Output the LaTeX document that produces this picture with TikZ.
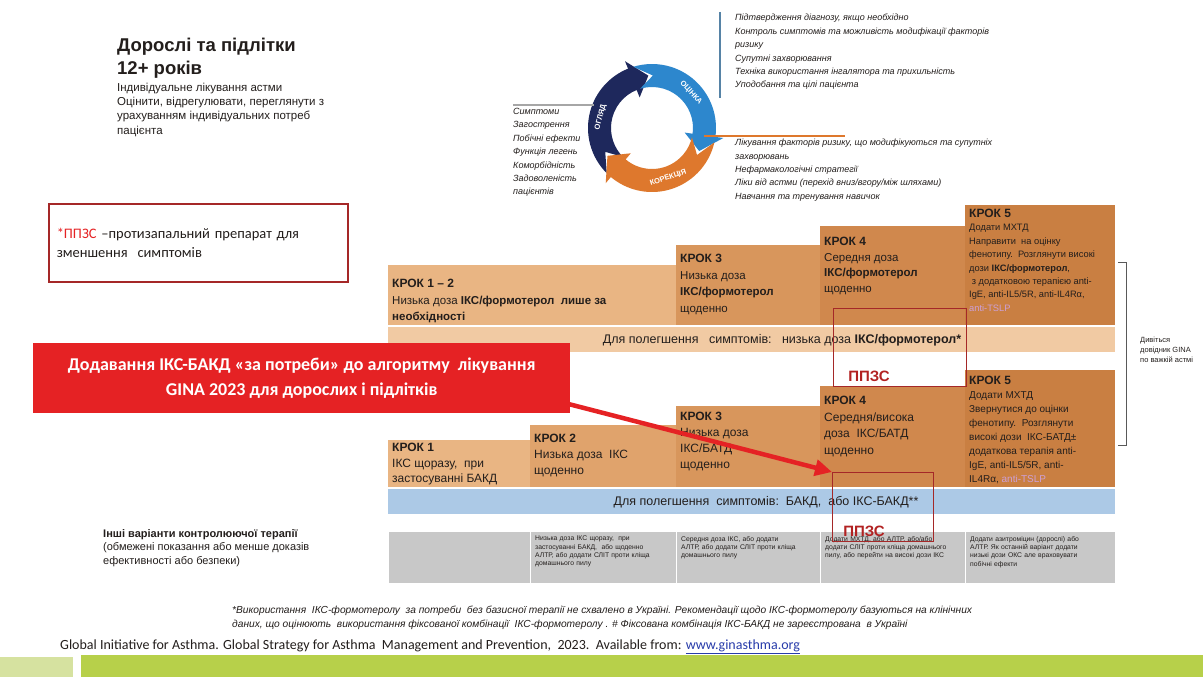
\documentclass[tikz,border=0pt]{standalone}
\usepackage{fontspec}
\setmainfont{Liberation Sans}
\newfontfamily\calibri{Carlito}
\usetikzlibrary{arrows.meta,positioning}
\definecolor{ink}{RGB}{35,30,28}
\definecolor{navy}{RGB}{30,40,92}
\definecolor{sky}{RGB}{45,135,205}
\definecolor{rust}{RGB}{222,120,45}
\definecolor{stepA}{RGB}{233,181,131}
\definecolor{stepB}{RGB}{224,163,108}
\definecolor{stepC}{RGB}{216,150,92}
\definecolor{stepD}{RGB}{208,136,77}
\definecolor{stepE}{RGB}{201,127,66}
\definecolor{peach}{RGB}{241,202,163}
\definecolor{relief}{RGB}{172,201,230}
\definecolor{stone}{RGB}{200,200,200}
\definecolor{wine}{RGB}{165,40,40}
\definecolor{alarm}{RGB}{229,34,36}
\definecolor{lilac}{RGB}{205,160,215}
\definecolor{lime}{RGB}{183,208,74}
\definecolor{palelime}{RGB}{214,226,160}
\definecolor{link}{RGB}{40,60,170}
\tikzset{
  >={Stealth[length=2.6mm]},
  stepbox/.style={fill=#1,inner sep=0pt,outer sep=0pt,anchor=south west},
  steptext/.style={anchor=north west,align=left,inner sep=0pt,text=ink},
  band/.style={fill=#1,inner sep=0pt,anchor=north west,minimum width=727pt,minimum height=25pt},
  bandtext/.style={font=\fontsize{12.5}{14}\selectfont,text=ink},
  ppzsbox/.style={draw=wine,line width=1.4pt,inner sep=0pt,anchor=north west},
  ppzslabel/.style={font=\fontsize{15}{17}\selectfont\bfseries,text=wine!85!red},
  note/.style={anchor=north west,align=left,inner sep=0pt,text=ink,
    font=\fontsize{9}{13.4}\selectfont\itshape},
  graycell/.style={fill=stone,draw=white,line width=0.8pt,inner sep=0pt,
    anchor=north west,minimum height=52pt},
  celltext/.style={anchor=north west,align=left,inner sep=0pt,text width=126pt,
    text=ink,font=\fontsize{6.8}{8.3}\selectfont},
  cyclelabel/.style={text=white,font=\fontsize{7.5}{8}\selectfont\bfseries,inner sep=0pt},
  hairline/.style={draw=#1,line width=1.2pt},
}
% header of a step box
\newcommand{\krok}[1]{{\fontsize{12}{15}\selectfont\bfseries КРОК #1}}
% one arrow of the review cycle: colour, start angle, end angle
\newcommand{\cyclearrow}[3]{%
  \fill[#1] (#2:64) arc[start angle=#2,end angle=#3,radius=64]
    -- (#3:72) -- ({#3-18}:52.5) -- (#3:33) -- (#3:41)
    arc[start angle=#3,end angle=#2,radius=41] -- ({#2-18}:52.5) -- cycle;}

\begin{document}
\begin{tikzpicture}[x=1pt,y=-1pt]
  \useasboundingbox (0,0) rectangle (1203,677);
  \fill[white] (0,0) rectangle (1203,677);

  % heading
  \node[anchor=north west,align=left,inner sep=0pt,text=ink,
    font=\fontsize{18.5}{23}\selectfont\bfseries] (title) at (117,38) {Дорослі та підлітки\\12+ років};
  \node[below=4pt of title.south west,anchor=north west,align=left,inner sep=0pt,text=ink,
    font=\fontsize{11.5}{14.3}\selectfont] (subtitle) {Індивідуальне лікування астми\\Оцінити, відрегулювати, переглянути з\\урахуванням індивідуальних потреб\\пацієнта};

  % review - assess - adjust cycle
  \begin{scope}[shift={(652,128)},y=1pt]
    \cyclearrow{navy}{225}{112}
    \cyclearrow{sky}{107}{-8}
    \cyclearrow{rust}{-13}{-130}
    \node[cyclelabel,rotate=75] (review) at (168:52.5) {ОГЛЯД};
    \node[cyclelabel,rotate=-48] (assess) at (42:52.5) {ОЦІНКА};
    \node[cyclelabel,rotate=18] (adjust) at (-72:52.5) {КОРЕКЦІЯ};
  \end{scope}
  \node[note] (checklist) at (735,14) {Підтвердження діагнозу, якщо необхідно\\Контроль симптомів та можливість модифікації факторів\\ризику\\Супутні захворювання\\Техніка використання інгалятора та прихильність\\Уподобання та цілі пацієнта};
  \node[note] (actionlist) at (735,139) {Лікування факторів ризику, що модифікуються та супутніх\\захворювань\\Нефармакологічні стратегії\\Ліки від астми (перехід вниз/вгору/між шляхами)\\Навчання та тренування навичок};
  \node[note] (reviewlist) at (513,108) {Симптоми\\Загострення\\Побічні ефекти\\Функція легень\\Коморбідність\\Задоволеність\\пацієнтів};
  \coordinate (reviewend) at (594,105);
  \coordinate (adjuststart) at (704,136);
  \coordinate (adjustend) at (845,136);
  \draw[hairline=gray!70] ([yshift=3pt]reviewlist.north west) -- (reviewend);
  \draw[hairline=sky!50!gray] ([xshift=-15pt,yshift=2pt]checklist.north west) -- ([xshift=-15pt,yshift=-8pt]checklist.south west);
  \draw[hairline=rust] (adjuststart) -- (adjustend);

  % legend
  \node[draw=wine,line width=1.5pt,minimum width=299pt,minimum height=78pt,inner xsep=8pt,
    text width=283pt,align=left,anchor=north west,text=ink,
    font=\calibri\fontsize{14.5}{19}\selectfont] (legend) at (48,203)
    {\textcolor{alarm}{*ППЗС} –протизапальний препарат для\\зменшення\ \ симптомів};

  % track 1: ICS-formoterol reliever
  \foreach \n/\x/\w/\h/\c/\dy/\fs/\ls/\t in {
      u12/388/288/60/stepA/14/11.5/16.5/{\krok{1 – 2}\\Низька доза \textbf{ІКС/формотерол}\ \ \textbf{лише за}\\\textbf{необхідності}},
      u3/676/144/80/stepC/9/11.5/16.5/{\krok{3}\\Низька доза\\\textbf{ІКС/формотерол}\\щоденно},
      u4/820/145/99/stepD/11/11.5/15.5/{\krok{4}\\Середня доза\\\textbf{ІКС/формотерол}\\щоденно},
      u5/965/150/120/stepE/4/9.3/13.4/{\krok{5}\\Додати МХТД\\Направити\ \ на оцінку\\фенотипу.\ \ Розглянути високі\\дози \textbf{ІКС/формотерол},\\\ з додатковою терапією anti-\\IgE, anti-IL5/5R, anti-IL4Rα,\\\textcolor{lilac}{anti-TSLP}}}
  {
    \node[stepbox=\c,minimum width=\w pt,minimum height=\h pt] (\n) at (\x,325) {};
    \node[steptext,font=\fontsize{\fs}{\ls}\selectfont] at ([xshift=4pt,yshift=-\dy pt]\n.north west) {\t};
  }
  \node[band=peach] (reliefA) at (388,327) {};
  \node[bandtext] (reliefAtext) at (782,340) {Для полегшення\ \ \ симптомів:\ \ \ низька доза \textbf{ІКС/формотерол*}};

  % track 2: SABA or ICS-SABA reliever
  \foreach \n/\x/\w/\h/\c/\dy/\fs/\ls/\t in {
      l1/388/142/47/stepA/3/12/15.5/{\krok{1}\\ІКС щоразу,\ \ при\\застосуванні БАКД},
      l2/530/146/62/stepB/9/12/16/{\krok{2}\\Низька доза\ \ ІКС\\щоденно},
      l3/676/144/81/stepC/6/12/16/{\krok{3}\\Низька доза\\ІКС/БАТД\\щоденно},
      l4/820/145/101/stepD/10/12/16.5/{\krok{4}\\Середня/висока\\доза\ \ ІКС/БАТД\\щоденно},
      l5/965/150/117/stepE/6/10/14/{\krok{5}\\Додати МХТД\\Звернутися до оцінки\\фенотипу.\ \ Розглянути\\високі дози\ \ ІКС-БАТД±\\додаткова терапія anti-\\IgE, anti-IL5/5R, anti-\\IL4Rα, \textcolor{lilac}{anti-TSLP}}}
  {
    \node[stepbox=\c,minimum width=\w pt,minimum height=\h pt] (\n) at (\x,487) {};
    \node[steptext,font=\fontsize{\fs}{\ls}\selectfont] at ([xshift=4pt,yshift=-\dy pt]\n.north west) {\t};
  }
  \node[band=relief] (reliefB) at (388,489) {};
  \node[bandtext] (reliefBtext) at (766,502) {Для полегшення\ \ симптомів:\ \ БАКД,\ \ або ІКС-БАКД**};

  % other controller options
  \foreach \x/\w/\t [count=\k] in {
      388/142/{},
      530/146/{Низька доза ІКС щоразу,\ \ при застосуванні БАКД,\ \ або щоденно АЛТР, або додати СЛІТ проти кліща домашнього пилу},
      676/144/{Середня доза ІКС, або додати АЛТР, або додати СЛІТ проти кліща домашнього пилу},
      820/145/{Додати МХТД, або АЛТР, або/або додати СЛІТ проти кліща домашнього пилу, або перейти на високі дози ІКС},
      965/150/{Додати азитроміцин (дорослі) або АЛТР. Як останній варіант додати низькі дози ОКС але враховувати побічні ефекти}}
  {
    \node[graycell,minimum width=\w pt] (g\k) at (\x,531) {};
    \node[celltext] at ([xshift=5pt,yshift=-5pt]g\k.north west) {\t};
  }
  \node[anchor=north west,align=left,inner sep=0pt,text=ink,font=\fontsize{11}{13.6}\selectfont] (other) at (103,529)
    {\textbf{Інші варіанти контролюючої терапії}\\(обмежені показання або менше доказів\\ефективності або безпеки)};

  % severe asthma bracket
  \draw[gray!70!black,line width=0.9pt] (1118,262) -- (1126,262) -- (1126,445) -- (1118,445);
  \node[anchor=west,align=left,inner sep=0pt,text=ink,font=\fontsize{7.5}{10}\selectfont] (severe) at (1140,350)
    {Дивіться\\довідник GINA\\по важкій астмі};

  % anti-inflammatory reliever frames
  \node[ppzsbox,minimum width=133pt,minimum height=78pt] (ppzsA) at (833,308) {};
  \node[ppzslabel] (ppzsAtext) at (869,376) {ППЗС};
  \node[ppzsbox,minimum width=101pt,minimum height=69pt] (ppzsB) at (832,472) {};
  \node[ppzslabel] (ppzsBtext) at (864,531) {ППЗС};

  % what is new
  \node[fill=alarm,text=white,minimum width=537pt,minimum height=70pt,align=center,anchor=north west,
    font=\calibri\fontsize{18}{25}\selectfont\bfseries] (banner) at (33,343)
    {Додавання ІКС-БАКД «за потреби» до алгоритму\ \ лікування\\GINA 2023 для дорослих і підлітків};
  \draw[line width=4.5pt,alarm,-{Triangle[length=17pt,width=16pt]}] ([xshift=-12pt,yshift=12pt]banner.south east) -- (ppzsB.north west);

  % footnotes and source
  \node[anchor=north west,align=left,inner sep=0pt,text=ink,font=\fontsize{10.2}{14}\selectfont\itshape] (footnote) at (232,606)
    {*Використання\ \ ІКС-формотеролу\ \ за потреби\ \ без базисної терапії не схвалено в Україні. Рекомендації щодо ІКС-формотеролу базуються на клінічних\\даних, що оцінюють\ \ використання фіксованої комбінації\ \ ІКС-формотеролу . \# Фіксована комбінація ІКС-БАКД не зареєстрована\ \ в Україні};
  \node[anchor=base west,inner sep=0pt,text=ink,font=\calibri\fontsize{14}{15}\selectfont] (source) at (60,649)
    {Global Initiative for Asthma. Global Strategy for Asthma\ \ Management and Prevention,\ \ 2023.\ \ Available from: \textcolor{link}{\underline{www.ginasthma.org}}};
  \fill[palelime] (0,657) rectangle (73,677);
  \fill[lime] (81,655) rectangle (1203,677);
\end{tikzpicture}
\end{document}
